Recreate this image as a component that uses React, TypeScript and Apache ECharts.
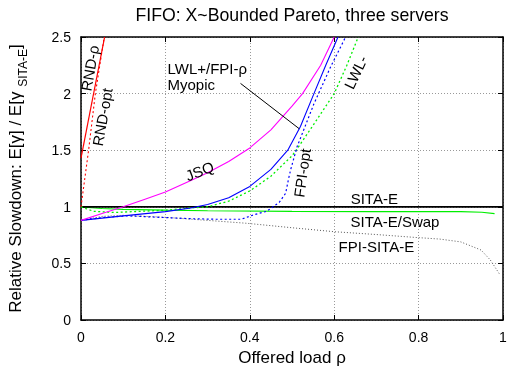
import React, { useEffect, useRef } from "react";
import * as echarts from "echarts";

// ---- data ----
const rndRhoX = [0, 0.056];
const rndRhoY = [1.43, 2.5];
const rndOptX = [0, 0.018, 0.034, 0.055];
const rndOptY = [1.0, 1.5, 2.0, 2.5];
const jsqX = [0, 0.05, 0.1, 0.15, 0.2, 0.263, 0.3, 0.35, 0.4, 0.45, 0.5, 0.525, 0.568, 0.6];
const jsqY = [0.88, 0.94, 1.0, 1.065, 1.13, 1.237, 1.3, 1.4, 1.52, 1.68, 1.89, 2.0, 2.25, 2.5];
const lwlPlusX = [0, 0.1, 0.2, 0.26, 0.3, 0.35, 0.4, 0.45, 0.49, 0.52, 0.552, 0.58, 0.609];
const lwlPlusY = [0.88, 0.92, 0.957, 0.99, 1.02, 1.08, 1.18, 1.33, 1.5, 1.71, 2.0, 2.25, 2.5];
const lwlMinusX = [0, 0.03, 0.08, 0.2, 0.26, 0.3, 0.35, 0.4, 0.45, 0.5, 0.51, 0.55, 0.6, 0.63, 0.657];
const lwlMinusY = [1.0, 0.96, 0.95, 0.97, 0.99, 1.0, 1.05, 1.14, 1.27, 1.45, 1.5, 1.72, 2.0, 2.25, 2.5];
const fpiOptX = [0, 0.05, 0.11, 0.2, 0.26, 0.32, 0.38, 0.41, 0.44, 0.47, 0.485, 0.492, 0.497, 0.512, 0.552, 0.592, 0.627];
const fpiOptY = [0.88, 0.905, 0.92, 0.905, 0.895, 0.89, 0.89, 0.93, 0.96, 1.04, 1.12, 1.25, 1.33, 1.53, 1.91, 2.24, 2.5];
const fpiSitaX = [0, 0.05, 0.1, 0.2, 0.3, 0.394, 0.5, 0.6, 0.7, 0.79, 0.85, 0.9, 0.948, 0.97, 0.991];
const fpiSitaY = [0.88, 0.915, 0.925, 0.907, 0.88, 0.854, 0.815, 0.78, 0.755, 0.73, 0.715, 0.69, 0.618, 0.53, 0.41];
const swapX = [0, 0.05, 0.1, 0.2, 0.3, 0.5, 0.7, 0.9, 0.95, 0.98];
const swapY = [1.0, 0.985, 0.978, 0.97, 0.965, 0.96, 0.958, 0.958, 0.952, 0.94];
const sitaX = [0, 1];
const sitaY = [1, 1];
const pointerX = [0.378, 0.517];
const pointerY = [2.09, 1.69];

const labelText = ["RND-ρ", "RND-opt", "JSQ", "FPI-opt", "LWL-", "SITA-E", "SITA-E/Swap", "FPI-SITA-E", "LWL+/FPI-ρ", "Myopic"];
const labelX = [0.021, 0.0506, 0.281, 0.524, 0.651, 0.695, 0.744, 0.7, 0.205, 0.205];
const labelY = [2.226, 1.793, 1.316, 1.3, 2.19, 1.069, 0.866, 0.645, 2.225, 2.08];
const labelRot = [80, 80, 21, 82, 65, 0, 0, 0, 0, 0];
const labelAlign = ["center", "center", "center", "center", "center", "center", "center", "center", "left", "left"];

const FONT = "'Liberation Sans', Arial, Helvetica, sans-serif";

const pairs = (xs: number[], ys: number[]) => xs.map((x, i) => [x, ys[i]]);

export default function App() {
  const ref = useRef<HTMLDivElement>(null);
  useEffect(() => {
    const chart = echarts.init(ref.current!, null, { renderer: "svg" });
    const mk = (name: string, xs: number[], ys: number[], color: string, width: number, type: any) => ({
      name,
      type: "line",
      data: pairs(xs, ys),
      showSymbol: false,
      symbol: "none",
      smooth: false,
      clip: true,
      lineStyle: { color, width, type },
      z: 3,
    });
    const option: any = {
      animation: false,
      grid: { left: 81, right: 4, top: 37, bottom: 46, containLabel: false, outerBoundsMode: "none" },
      xAxis: [
        {
          type: "value",
          min: 0,
          max: 1,
          interval: 0.2,
          name: "Offered load ρ",
          nameLocation: "middle",
          nameGap: 27,
          nameTextStyle: { fontFamily: FONT, fontSize: 17, color: "#000" },
          axisLine: { show: true, onZero: false, lineStyle: { color: "#000", width: 1.5 } },
          axisTick: { show: true, inside: true, length: 5, lineStyle: { color: "#000" } },
          axisLabel: { fontFamily: FONT, fontSize: 14, color: "#000", margin: 10 },
          splitLine: { show: true, lineStyle: { color: "#999", type: [1, 2], width: 1 } },
        },
        {
          type: "value",
          position: "top",
          min: 0,
          max: 1,
          interval: 0.2,
          axisLine: { show: true, onZero: false, lineStyle: { color: "#000", width: 1.5 } },
          axisTick: { show: true, inside: true, length: 5, lineStyle: { color: "#000" } },
          axisLabel: { show: false },
          splitLine: { show: false },
        },
      ],
      yAxis: [
        {
          type: "value",
          min: 0,
          max: 2.5,
          interval: 0.5,
          name: "{a|Relative Slowdown: E[γ] / E[γ }{b|SITA-E}{a|]}",
          nameLocation: "middle",
          nameRotate: 90,
          nameGap: 52,
          nameTextStyle: {
            fontFamily: FONT,
            fontSize: 17,
            color: "#000",
            rich: {
              a: { fontFamily: FONT, fontSize: 17, color: "#000", lineHeight: 22, verticalAlign: "top" },
              b: { fontFamily: FONT, fontSize: 12, color: "#000", lineHeight: 22, verticalAlign: "bottom" },
            },
          },
          axisLine: { show: true, onZero: false, lineStyle: { color: "#000", width: 1.5 } },
          axisTick: { show: true, inside: true, length: 5, lineStyle: { color: "#000" } },
          axisLabel: { fontFamily: FONT, fontSize: 14, color: "#000", margin: 10 },
          splitLine: { show: true, lineStyle: { color: "#999", type: [1, 2], width: 1 } },
        },
        {
          type: "value",
          position: "right",
          min: 0,
          max: 2.5,
          interval: 0.5,
          axisLine: { show: true, onZero: false, lineStyle: { color: "#000", width: 1.5 } },
          axisTick: { show: true, inside: true, length: 5, lineStyle: { color: "#000" } },
          axisLabel: { show: false },
          splitLine: { show: false },
        },
      ],
      series: [
        mk("FPI-SITA-E", fpiSitaX, fpiSitaY, "#555", 1, [1, 2]),
        mk("SITA-E/Swap", swapX, swapY, "#00ee00", 1.2, "solid"),
        mk("SITA-E", sitaX, sitaY, "#000", 1.8, "solid"),
        mk("LWL-", lwlMinusX, lwlMinusY, "#00ee00", 1.3, [2, 2.5]),
        mk("FPI-opt", fpiOptX, fpiOptY, "#0000ff", 1.2, [2, 2.5]),
        mk("LWL+/FPI-ρ Myopic", lwlPlusX, lwlPlusY, "#0000ff", 1.1, "solid"),
        mk("JSQ", jsqX, jsqY, "#ff00ff", 1.1, "solid"),
        mk("RND-opt", rndOptX, rndOptY, "#ff0000", 1.1, [2, 2.5]),
        mk("RND-ρ", rndRhoX, rndRhoY, "#ff0000", 1.2, "solid"),
        mk("pointer", pointerX, pointerY, "#000", 1, "solid"),
      ],
    };
    chart.setOption(option);

    const graphics: any[] = labelText.map((t, i) => {
      const p = chart.convertToPixel({ gridIndex: 0 }, [labelX[i], labelY[i]]) as number[];
      return {
        type: "text",
        x: p[0],
        y: p[1],
        rotation: (labelRot[i] * Math.PI) / 180,
        z: 10,
        style: {
          text: t,
          fontFamily: FONT,
          fontSize: 15,
          fill: "#000",
          align: labelAlign[i],
          verticalAlign: "middle",
        },
      };
    });
    const c0 = chart.convertToPixel({ gridIndex: 0 }, [0.5, 2.5]) as number[];
    graphics.push({
      type: "text",
      x: c0[0],
      y: 15,
      style: {
        text: "FIFO: X~Bounded Pareto, three servers",
        fontFamily: FONT,
        fontSize: 17.7,
        fill: "#000",
        align: "center",
        verticalAlign: "middle",
      },
    });
    chart.setOption({ graphic: graphics });

    return () => chart.dispose();
  }, []);
  return <div ref={ref} style={{ position: "fixed", left: 0, top: 0, width: 507, height: 366 }} />;
}
